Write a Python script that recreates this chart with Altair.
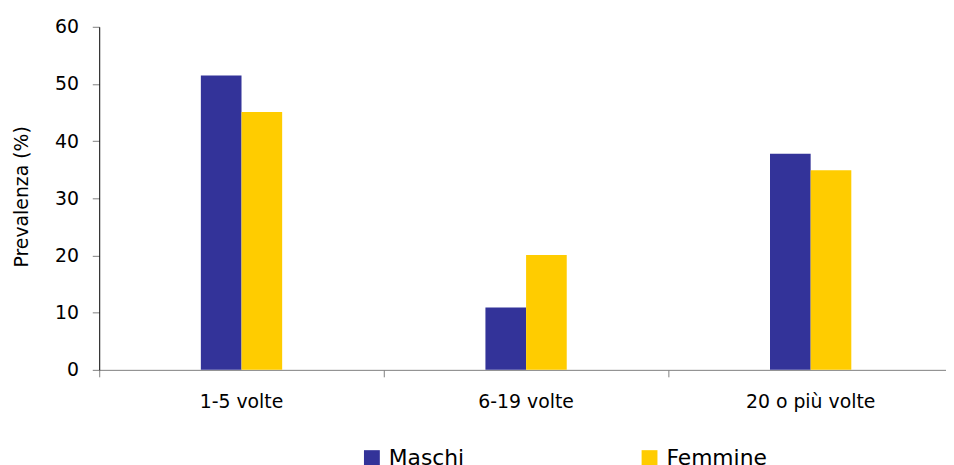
import altair as alt
import pandas as pd

categories = ["1-5 volte", "6-19 volte", "20 o più volte"]
maschi = [51.5, 10.9, 37.8]
femmine = [45.1, 20.1, 34.9]
series = ["Maschi", "Femmine"]
colors = ["#333399", "#FFCC00"]

rows = []
for c, m, f in zip(categories, maschi, femmine):
    rows.append({"cat": c, "sesso": "Maschi", "val": m})
    rows.append({"cat": c, "sesso": "Femmine", "val": f})
df = pd.DataFrame(rows)

FONT = "DejaVu Sans"

chart = alt.Chart(df).mark_bar().encode(
    x=alt.X("cat:N", sort=categories,
            scale=alt.Scale(range=[0, 861], paddingInner=0, paddingOuter=0),
            axis=alt.Axis(title=None, labelAngle=0, bandPosition=0,
                          domain=False, tickSize=7,
                          labelPadding=16, labelFontSize=19, labelFont=FONT,
                          labelColor="black", tickColor="#808080", grid=False)),
    xOffset=alt.XOffset("sesso:N", sort=series,
                        scale=alt.Scale(range=[102.5, 184.5], paddingInner=0, paddingOuter=0)),
    y=alt.Y("val:Q", scale=alt.Scale(domain=[0, 60], nice=False),
            axis=alt.Axis(title="Prevalenza (%)", values=[0, 10, 20, 30, 40, 50, 60],
                          tickSize=7, labelPadding=14, labelFontSize=19, labelFont=FONT,
                          labelColor="black", domainColor="black", tickColor="#808080",
                          grid=True, gridColor="#808080", gridWidth=1,
                          gridOpacity={"condition": {"test": "datum.value === 0", "value": 1},
                                       "value": 0},
                          titleFont=FONT, titleFontSize=19,
                          titleFontWeight="normal", titleColor="black",
                          titleX=-72, titleY=171, titleAngle=270, titleAlign="center",
                          titleBaseline="alphabetic")),
    color=alt.Color("sesso:N", sort=series,
                    scale=alt.Scale(domain=series, range=colors),
                    legend=alt.Legend(title=None, orient="none", direction="horizontal",
                                      legendX=264, legendY=424, symbolType="square",
                                      symbolSize=256, symbolStrokeWidth=0,
                                      labelFontSize=22, labelFont=FONT, labelColor="black",
                                      labelOffset=6, columnPadding=175)),
).properties(
    width=854, height=346,
    autosize=alt.AutoSizeParams(type="none"),
    padding={"left": 92, "top": 17, "right": 0, "bottom": 94},
).configure_view(stroke=None)

chart.save("out.html", embed_options={"renderer": "svg", "actions": False})
